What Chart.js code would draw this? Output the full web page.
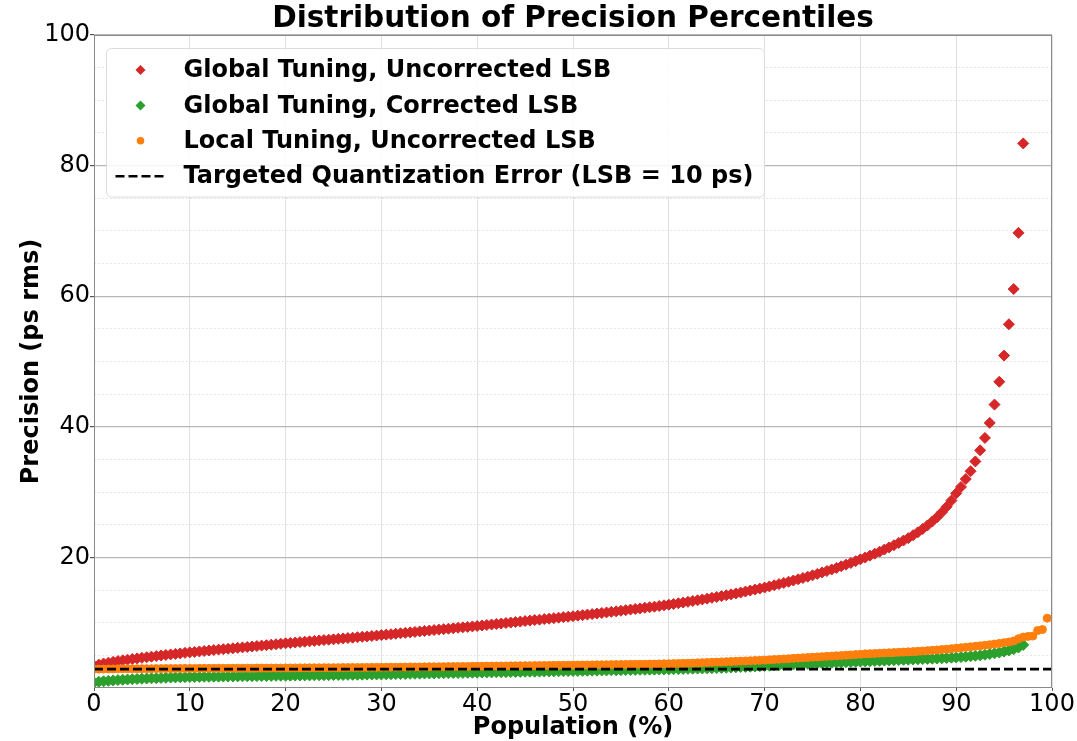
<!DOCTYPE html>
<html>
<head>
<meta charset="utf-8">
<script src="https://cdn.jsdelivr.net/npm/chart.js@4.4.0/dist/chart.umd.min.js"></script>
<style>
  html, body { margin: 0; padding: 0; background: #fff; }
  #wrap { width: 1077px; height: 741px; }
</style>
</head>
<body>
<div id="wrap"><canvas id="canvasPercentis" width="1077" height="741"></canvas></div>
<script>
// population percentile (%) of each sorted channel
const population = [
  0, 0.5, 1, 1.5, 2, 2.5, 3, 3.5, 4, 4.5, 5, 5.5, 6, 6.5, 7, 7.5, 8, 8.5, 9, 9.5,
  10, 10.5, 11, 11.5, 12, 12.5, 13, 13.5, 14, 14.5, 15, 15.5, 16, 16.5, 17, 17.5, 18, 18.5, 19, 19.5,
  20, 20.5, 21, 21.5, 22, 22.5, 23, 23.5, 24, 24.5, 25, 25.5, 26, 26.5, 27, 27.5, 28, 28.5, 29, 29.5,
  30, 30.5, 31, 31.5, 32, 32.5, 33, 33.5, 34, 34.5, 35, 35.5, 36, 36.5, 37, 37.5, 38, 38.5, 39, 39.5,
  40, 40.5, 41, 41.5, 42, 42.5, 43, 43.5, 44, 44.5, 45, 45.5, 46, 46.5, 47, 47.5, 48, 48.5, 49, 49.5,
  50, 50.5, 51, 51.5, 52, 52.5, 53, 53.5, 54, 54.5, 55, 55.5, 56, 56.5, 57, 57.5, 58, 58.5, 59, 59.5,
  60, 60.5, 61, 61.5, 62, 62.5, 63, 63.5, 64, 64.5, 65, 65.5, 66, 66.5, 67, 67.5, 68, 68.5, 69, 69.5,
  70, 70.5, 71, 71.5, 72, 72.5, 73, 73.5, 74, 74.5, 75, 75.5, 76, 76.5, 77, 77.5, 78, 78.5, 79, 79.5,
  80, 80.5, 81, 81.5, 82, 82.5, 83, 83.5, 84, 84.5, 85, 85.5, 86, 86.5, 87, 87.5, 88, 88.5, 89, 89.5,
  90, 90.5, 91, 91.5, 92, 92.5, 93, 93.5, 94, 94.5, 95, 95.5, 96, 96.5, 97, 97.5, 98, 98.5, 99, 99.5
]

// precision (ps rms), global tuning, uncorrected LSB
const globalUncorrected = [
  3.40, 3.58, 3.74, 3.88, 4.01, 4.13, 4.24, 4.34, 4.44, 4.53, 4.62, 4.71, 4.80, 4.89, 4.98, 5.06, 5.14, 5.22, 5.30, 5.38, 5.46,
  5.53, 5.60, 5.67, 5.74, 5.81, 5.88, 5.95, 6.01, 6.08, 6.15, 6.22, 6.28, 6.35, 6.42, 6.49, 6.56, 6.63, 6.70, 6.77, 6.84,
  6.90, 6.96, 7.03, 7.09, 7.15, 7.21, 7.28, 7.34, 7.40, 7.46, 7.53, 7.59, 7.65, 7.71, 7.78, 7.84, 7.90, 7.97, 8.03, 8.10,
  8.17, 8.24, 8.31, 8.38, 8.45, 8.52, 8.59, 8.66, 8.73, 8.80, 8.87, 8.94, 9.01, 9.08, 9.15, 9.22, 9.29, 9.36, 9.43, 9.50,
  9.57, 9.65, 9.72, 9.80, 9.87, 9.95, 10.02, 10.10, 10.17, 10.25, 10.32, 10.40, 10.47, 10.55, 10.62, 10.70, 10.77, 10.85, 10.92, 11.00,
  11.08, 11.16, 11.24, 11.32, 11.40, 11.49, 11.57, 11.66, 11.74, 11.83, 11.92, 12.01, 12.10, 12.19, 12.28, 12.37, 12.46, 12.56, 12.66, 12.76,
  12.87, 12.98, 13.09, 13.20, 13.32, 13.44, 13.56, 13.68, 13.81, 13.94, 14.07, 14.20, 14.34, 14.48, 14.62, 14.77, 14.92, 15.07, 15.23, 15.39,
  15.56, 15.73, 15.91, 16.09, 16.27, 16.46, 16.65, 16.85, 17.05, 17.25,
  17.47, 17.69, 17.92, 18.15, 18.39, 18.64, 18.89, 19.15, 19.42, 19.70,
  19.98, 20.27, 20.57, 20.88, 21.20, 21.53, 21.87, 22.22, 22.58, 22.95,
  23.40, 23.85, 24.35, 24.90, 25.50, 26.15, 26.90, 27.75, 28.70, 29.80,
  30.8, 32.0, 33.2, 34.7, 36.4, 38.3, 40.6, 43.4, 46.9, 50.9, 55.7, 61.1, 69.7, 83.4
]

// precision (ps rms), global tuning, corrected LSB
const globalCorrected = [
  0.85, 0.95, 1.03, 1.10, 1.16, 1.21, 1.26, 1.30, 1.34, 1.38, 1.42, 1.45, 1.48, 1.51, 1.54, 1.57, 1.60, 1.62, 1.64, 1.66, 1.68,
  1.69, 1.70, 1.71, 1.72, 1.73, 1.74, 1.75, 1.76, 1.77, 1.78, 1.79, 1.80, 1.81, 1.82, 1.83, 1.84, 1.85, 1.86, 1.87, 1.88,
  1.89, 1.90, 1.91, 1.92, 1.93, 1.94, 1.95, 1.96, 1.97, 1.98, 1.99, 2.00, 2.01, 2.02, 2.03, 2.04, 2.05, 2.06, 2.07, 2.08,
  2.10, 2.11, 2.13, 2.14, 2.15, 2.17, 2.18, 2.19, 2.21, 2.22, 2.23, 2.25, 2.26, 2.27, 2.29, 2.30, 2.31, 2.33, 2.34, 2.35,
  2.36, 2.38, 2.39, 2.40, 2.41, 2.43, 2.44, 2.45, 2.46, 2.48, 2.49, 2.50, 2.51, 2.53, 2.54, 2.55, 2.56, 2.58, 2.59, 2.60,
  2.61, 2.63, 2.64, 2.65, 2.66, 2.68, 2.69, 2.70, 2.71, 2.73, 2.74, 2.75, 2.76, 2.78, 2.79, 2.80, 2.81, 2.83, 2.84, 2.85,
  2.87, 2.89, 2.91, 2.93, 2.95, 2.97, 2.99, 3.01, 3.03, 3.05, 3.08, 3.11, 3.14, 3.17, 3.20, 3.23, 3.26, 3.30, 3.34, 3.38,
  3.42, 3.46, 3.50, 3.53, 3.57, 3.60, 3.63, 3.67, 3.70, 3.74,
  3.77, 3.80, 3.83, 3.86, 3.89, 3.92, 3.95, 3.98, 4.01, 4.04,
  4.07, 4.10, 4.13, 4.16, 4.19, 4.22, 4.25, 4.28, 4.31, 4.34,
  4.37, 4.40, 4.43, 4.46, 4.49, 4.52, 4.56, 4.60, 4.64, 4.68,
  4.73, 4.79, 4.86, 4.93, 5.01, 5.10, 5.20, 5.31, 5.43, 5.58, 5.75, 5.95, 6.20, 6.60
]

// precision (ps rms), local tuning, uncorrected LSB
const localUncorrected = [
  2.88, 2.89, 2.90, 2.91, 2.92, 2.93, 2.93, 2.94, 2.94, 2.95, 2.95, 2.96, 2.96, 2.97, 2.97, 2.98, 2.98, 2.99, 2.99, 3.00, 3.00,
  3.00, 3.01, 3.01, 3.01, 3.02, 3.02, 3.02, 3.03, 3.03, 3.03, 3.04, 3.04, 3.04, 3.05, 3.05, 3.05, 3.06, 3.06, 3.06, 3.07,
  3.07, 3.08, 3.08, 3.09, 3.09, 3.10, 3.10, 3.11, 3.11, 3.12, 3.12, 3.13, 3.13, 3.14, 3.14, 3.15, 3.15, 3.16, 3.16, 3.17,
  3.18, 3.19, 3.19, 3.20, 3.21, 3.22, 3.22, 3.23, 3.24, 3.25, 3.25, 3.26, 3.27, 3.28, 3.28, 3.29, 3.30, 3.31, 3.32, 3.33,
  3.34, 3.35, 3.36, 3.37, 3.37, 3.38, 3.39, 3.40, 3.41, 3.42, 3.42, 3.43, 3.44, 3.45, 3.46, 3.47, 3.47, 3.48, 3.49, 3.50,
  3.51, 3.52, 3.53, 3.54, 3.55, 3.56, 3.57, 3.58, 3.59, 3.60, 3.61, 3.62, 3.63, 3.64, 3.65, 3.66, 3.67, 3.69, 3.70, 3.72,
  3.74, 3.76, 3.78, 3.80, 3.82, 3.85, 3.88, 3.91, 3.94, 3.97, 4.00, 4.03, 4.06, 4.09, 4.12, 4.15, 4.18, 4.21, 4.24, 4.27,
  4.31, 4.36, 4.40, 4.45, 4.49, 4.54, 4.58, 4.63, 4.67, 4.72,
  4.76, 4.80, 4.85, 4.89, 4.94, 4.98, 5.03, 5.07, 5.12, 5.16,
  5.23, 5.26, 5.29, 5.33, 5.36, 5.40, 5.43, 5.47, 5.50, 5.54,
  5.58, 5.62, 5.67, 5.72, 5.77, 5.83, 5.89, 5.95, 6.02, 6.10,
  6.17, 6.24, 6.31, 6.38, 6.46, 6.55, 6.64, 6.73, 6.83, 6.94,
  7.05, 7.20, 7.55, 7.80, 7.90, 7.95, 8.80, 8.95, 10.70
]

// targeted quantization error for LSB = 10 ps (10 / sqrt(12))
const quantizationError = 2.89
const lineSpan = [0, 100]

const xTicks = [0, 10, 20, 30, 40, 50, 60, 70, 80, 90, 100]
const yTicks = [20, 40, 60, 80, 100]

const chartTitle = 'Distribution of Precision Percentiles'

const legendItems = [
    { text: 'Global Tuning, Uncorrected LSB', color: '#d62728', style: 'diamond' },
    { text: 'Global Tuning, Corrected LSB', color: '#2ca02c', style: 'diamond' },
    { text: 'Local Tuning, Uncorrected LSB', color: '#ff7f0e', style: 'circle' },
    { text: 'Targeted Quantization Error (LSB = 10 ps)', color: '#000000', style: 'dash' }
]

function toPoints(values) {
    return values.map((v, i) => ({ x: population[i], y: v }))
}

Chart.defaults.font.family = "'DejaVu Sans', sans-serif"
Chart.defaults.color = '#000'

// matplotlib-like box round the axes, title centred over the axes
const framePlugin = {
    id: 'frame',
    afterDatasetsDraw(chart) {
        const { ctx, chartArea: a } = chart
        ctx.save()
        ctx.strokeStyle = '#8a8a8a'
        ctx.lineWidth = 1
        ctx.strokeRect(a.left + 0.5, a.top + 0.5, a.right - a.left - 1, a.bottom - a.top - 1)
        ctx.font = "bold 29.5px 'DejaVu Sans'"
        ctx.fillStyle = '#000'
        ctx.textAlign = 'center'
        ctx.textBaseline = 'middle'
        ctx.fillText(chartTitle, (a.left + a.right) / 2, 19)
        ctx.restore()
    }
}

const legendPlugin = {
    id: 'boxLegend',
    afterDraw(chart) {
        const { ctx, chartArea: a } = chart
        const x0 = a.left + 12.5
        const y0 = a.top + 13.5
        const rowH = 35.4
        const textX = x0 + 77
        ctx.save()
        ctx.font = "bold 24px 'DejaVu Sans'"
        let maxW = 0
        legendItems.forEach(item => { maxW = Math.max(maxW, ctx.measureText(item.text).width) })
        const w = textX + maxW + 11 - x0
        const h = rowH * legendItems.length + 7
        ctx.beginPath()
        ctx.roundRect(x0, y0, w, h, 5)
        ctx.fillStyle = 'rgba(255,255,255,0.85)'
        ctx.fill()
        ctx.strokeStyle = '#dcdcdc'
        ctx.lineWidth = 1
        ctx.stroke()

        legendItems.forEach((item, i) => {
            const cy = y0 + 21.5 + i * rowH
            const mx = x0 + 34
            ctx.fillStyle = item.color
            ctx.strokeStyle = item.color
            if (item.style === 'diamond') {
                ctx.beginPath()
                ctx.moveTo(mx - 5, cy)
                ctx.lineTo(mx, cy - 5)
                ctx.lineTo(mx + 5, cy)
                ctx.lineTo(mx, cy + 5)
                ctx.closePath()
                ctx.fill()
            } else if (item.style === 'circle') {
                ctx.beginPath()
                ctx.arc(mx, cy, 3.8, 0, Math.PI * 2)
                ctx.fill()
            } else {
                ctx.beginPath()
                ctx.lineWidth = 2.5
                ctx.setLineDash([9, 4])
                ctx.moveTo(x0 + 9, cy)
                ctx.lineTo(x0 + 58, cy)
                ctx.stroke()
                ctx.setLineDash([])
            }
            ctx.fillStyle = '#000'
            ctx.textBaseline = 'middle'
            ctx.textAlign = 'left'
            ctx.fillText(item.text, textX, cy + 1)
        })
        ctx.restore()
    }
}

const canvasPercentis = document.getElementById('canvasPercentis').getContext('2d')

percentilChart(canvasPercentis)

function percentilChart(canvas) {
    new Chart(canvas, {
        type: 'scatter',
        data: {
            datasets: [
                {
                    label: 'Targeted Quantization Error (LSB = 10 ps)',
                    data: lineSpan.map(x => ({ x: x, y: quantizationError })),
                    showLine: true,
                    borderColor: '#000',
                    borderWidth: 2.6,
                    borderDash: [9, 4],
                    pointRadius: 0,
                    clip: 0,
                    order: 0
                },
                {
                    label: 'Local Tuning, Uncorrected LSB',
                    data: toPoints(localUncorrected),
                    pointStyle: 'circle',
                    pointRadius: 4,
                    borderWidth: 1,
                    backgroundColor: '#ff7f0e',
                    borderColor: '#ff7f0e',
                    clip: 0,
                    order: 1
                },
                {
                    label: 'Global Tuning, Corrected LSB',
                    data: toPoints(globalCorrected),
                    pointStyle: 'rectRot',
                    pointRadius: 5.5,
                    borderWidth: 1,
                    backgroundColor: '#2ca02c',
                    borderColor: '#2ca02c',
                    clip: 0,
                    order: 2
                },
                {
                    label: 'Global Tuning, Uncorrected LSB',
                    data: toPoints(globalUncorrected),
                    pointStyle: 'rectRot',
                    pointRadius: 5.5,
                    borderWidth: 1,
                    backgroundColor: '#d62728',
                    borderColor: '#d62728',
                    clip: 0,
                    order: 3
                }
            ]
        },
        options: {
            responsive: false,
            animation: false,
            devicePixelRatio: 1,
            layout: { padding: { left: 0, right: 25, top: 35, bottom: 0 } },
            plugins: {
                legend: { display: false },
                tooltip: { enabled: false },
                title: { display: false }
            },
            scales: {
                x: {
                    type: 'linear',
                    min: 0,
                    max: 100,
                    afterBuildTicks: scale => { scale.ticks = xTicks.map(v => ({ value: v })) },
                    afterFit: scale => { scale.height = 53 },
                    ticks: { font: { size: 24, lineHeight: 1 }, padding: 2, color: '#000', maxRotation: 0 },
                    grid: { color: '#e0e0e0', lineWidth: 1, tickLength: 3, tickColor: '#555' },
                    border: { display: false },
                    title: {
                        display: true,
                        text: 'Population (%)',
                        font: { size: 24, weight: 'bold', lineHeight: 1.1 },
                        padding: { top: 0, bottom: 0 },
                        color: '#000'
                    }
                },
                y: {
                    type: 'linear',
                    min: 0,
                    max: 100,
                    afterBuildTicks: scale => { scale.ticks = yTicks.map(v => ({ value: v })) },
                    afterFit: scale => { scale.width = 94 },
                    ticks: { font: { size: 24, lineHeight: 1 }, padding: 0, color: '#000' },
                    grid: { color: '#b8b8b8', lineWidth: 1.2, tickLength: 4, tickColor: '#555' },
                    border: { display: false },
                    title: {
                        display: true,
                        text: 'Precision (ps rms)',
                        font: { size: 24, weight: 'bold', lineHeight: 1.2 },
                        padding: { top: 17, bottom: 0 },
                        color: '#000'
                    }
                },
                yMinor: {
                    type: 'linear',
                    position: 'right',
                    min: 0,
                    max: 100,
                    afterFit: scale => { scale.width = 0 },
                    ticks: { stepSize: 5, display: false },
                    grid: {
                        color: c => (c.tick && c.tick.value % 20 === 0) ? 'rgba(0,0,0,0)' : '#e6e6e6',
                        lineWidth: 1,
                        drawTicks: false
                    },
                    border: { display: false, dash: [2, 2] }
                }
            }
        },
        plugins: [framePlugin, legendPlugin]
    })
}
</script>
</body>
</html>
